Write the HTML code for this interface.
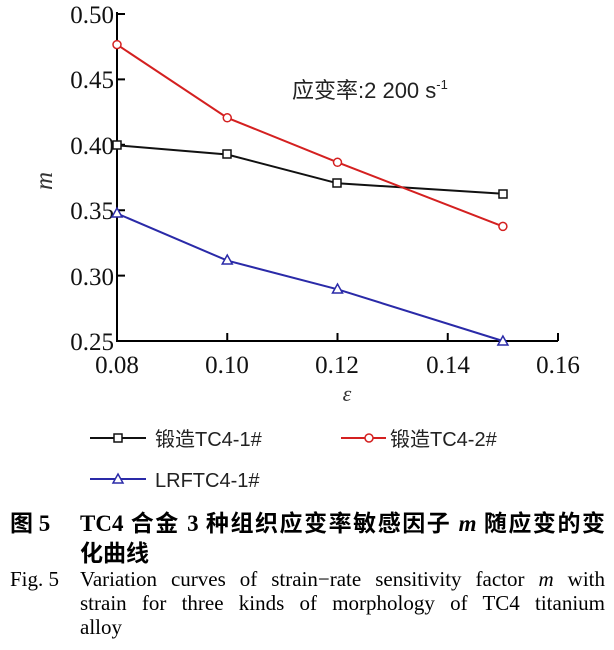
<!DOCTYPE html>
<html><head><meta charset="utf-8"><style>
body{margin:0;background:#fff;width:614px;height:650px;overflow:hidden;position:relative;font-family:"Liberation Serif","Noto Serif CJK SC",serif}
.c{position:absolute;white-space:nowrap}
.j{position:absolute;width:525px;text-align:justify;text-align-last:justify;white-space:nowrap}
</style></head><body>
<svg width="614" height="500" style="position:absolute;left:0;top:0" font-family="Liberation Serif, serif">
<g stroke="#000" stroke-width="2" fill="none">
<path d="M117,12 V341 H558"/>
<path d="M117,14h8M117,79.4h8M117,144.8h8M117,210.2h8M117,275.6h8"/>
<path d="M227.25,341v-8M337.5,341v-8M447.75,341v-8M558,341v-8"/>
</g>
<g font-size="25" fill="#111" text-anchor="end">
<text x="114" y="23">0.50</text><text x="114" y="88">0.45</text><text x="114" y="154">0.40</text><text x="114" y="219">0.35</text><text x="114" y="285">0.30</text><text x="114" y="350">0.25</text>
</g>
<g font-size="25" fill="#111" text-anchor="middle">
<text x="117" y="373">0.08</text><text x="227" y="373">0.10</text><text x="337" y="373">0.12</text><text x="448" y="373">0.14</text><text x="558" y="373">0.16</text>
</g>
<text x="347" y="401" font-size="22" font-style="italic" text-anchor="middle" fill="#333">ε</text>
<text transform="translate(52,181) rotate(-90)" font-size="25" font-style="italic" text-anchor="middle" fill="#333">m</text>
<text x="292" y="98" font-size="22" fill="#222" font-family="Liberation Sans, Noto Sans CJK SC, sans-serif">应变率:2 200 s<tspan dy="-9" font-size="13">-1</tspan></text>
<polyline points="117,145.3 227.25,154.5 337.5,183.3 502.9,193.7" stroke="#111" stroke-width="2" fill="none"/>
<g fill="#fff" stroke="#111" stroke-width="1.5">
<rect x="113" y="141" width="8" height="8"/><rect x="223" y="150" width="8" height="8"/><rect x="333" y="179" width="8" height="8"/><rect x="499" y="190" width="8" height="8"/>
</g>
<polyline points="117,44.6 227.25,117.8 337.5,162.3 502.9,226.4" stroke="#d42020" stroke-width="2" fill="none"/>
<g fill="#fff" stroke="#d42020" stroke-width="1.5">
<circle cx="117" cy="44.6" r="4"/><circle cx="227.25" cy="117.8" r="4"/><circle cx="337.5" cy="162.3" r="4"/><circle cx="502.9" cy="226.4" r="4"/>
</g>
<polyline points="117,213.5 227.25,260.6 337.5,289.3 502.9,341" stroke="#2a2aa8" stroke-width="2" fill="none"/>
<g fill="#fff" stroke="#2a2aa8" stroke-width="1.5">
<path d="M117,208 l5,9 h-10z"/><path d="M227.25,255 l5,9 h-10z"/><path d="M337.5,284 l5,9 h-10z"/><path d="M502.9,336 l5,9 h-10z"/>
</g>
<line x1="90" y1="438" x2="146" y2="438" stroke="#111" stroke-width="2"/><rect x="114" y="434" width="8" height="8" fill="#fff" stroke="#111" stroke-width="1.5"/>
<line x1="341" y1="438" x2="386" y2="438" stroke="#d42020" stroke-width="2"/><circle cx="369" cy="438" r="4" fill="#fff" stroke="#d42020" stroke-width="1.5"/>
<line x1="90" y1="479" x2="146" y2="479" stroke="#2a2aa8" stroke-width="2"/><path d="M118,474 l5,9 h-10z" fill="#fff" stroke="#2a2aa8" stroke-width="1.5"/>
<g font-size="20" fill="#222" font-family="Liberation Sans, Noto Sans CJK SC, sans-serif">
<text x="155" y="446">锻造TC4-1#</text><text x="390" y="446">锻造TC4-2#</text><text x="155" y="487">LRFTC4-1#</text>
</g>
</svg>
<div class="c" style="left:10px;top:504px;font-size:23px;font-weight:bold;font-family:'Liberation Serif','Noto Sans CJK SC',serif">图 5</div>
<div class="j" style="left:80px;top:504px;font-size:23px;font-weight:bold;font-family:'Liberation Serif','Noto Sans CJK SC',serif">TC4 合金 3 种组织应变率敏感因子 <i>m</i> 随应变的变</div>
<div class="c" style="left:80px;top:534px;font-size:23px;font-weight:bold;font-family:'Liberation Serif','Noto Sans CJK SC',serif">化曲线</div>
<div class="c" style="left:10px;top:567px;font-size:21px">Fig. 5</div>
<div class="j" style="left:80px;top:567px;font-size:21px">Variation curves of strain−rate sensitivity factor <i>m</i> with</div>
<div class="j" style="left:80px;top:591px;font-size:21px">strain for three kinds of morphology of TC4 titanium</div>
<div class="c" style="left:80px;top:615px;font-size:21px">alloy</div>
</body></html>
